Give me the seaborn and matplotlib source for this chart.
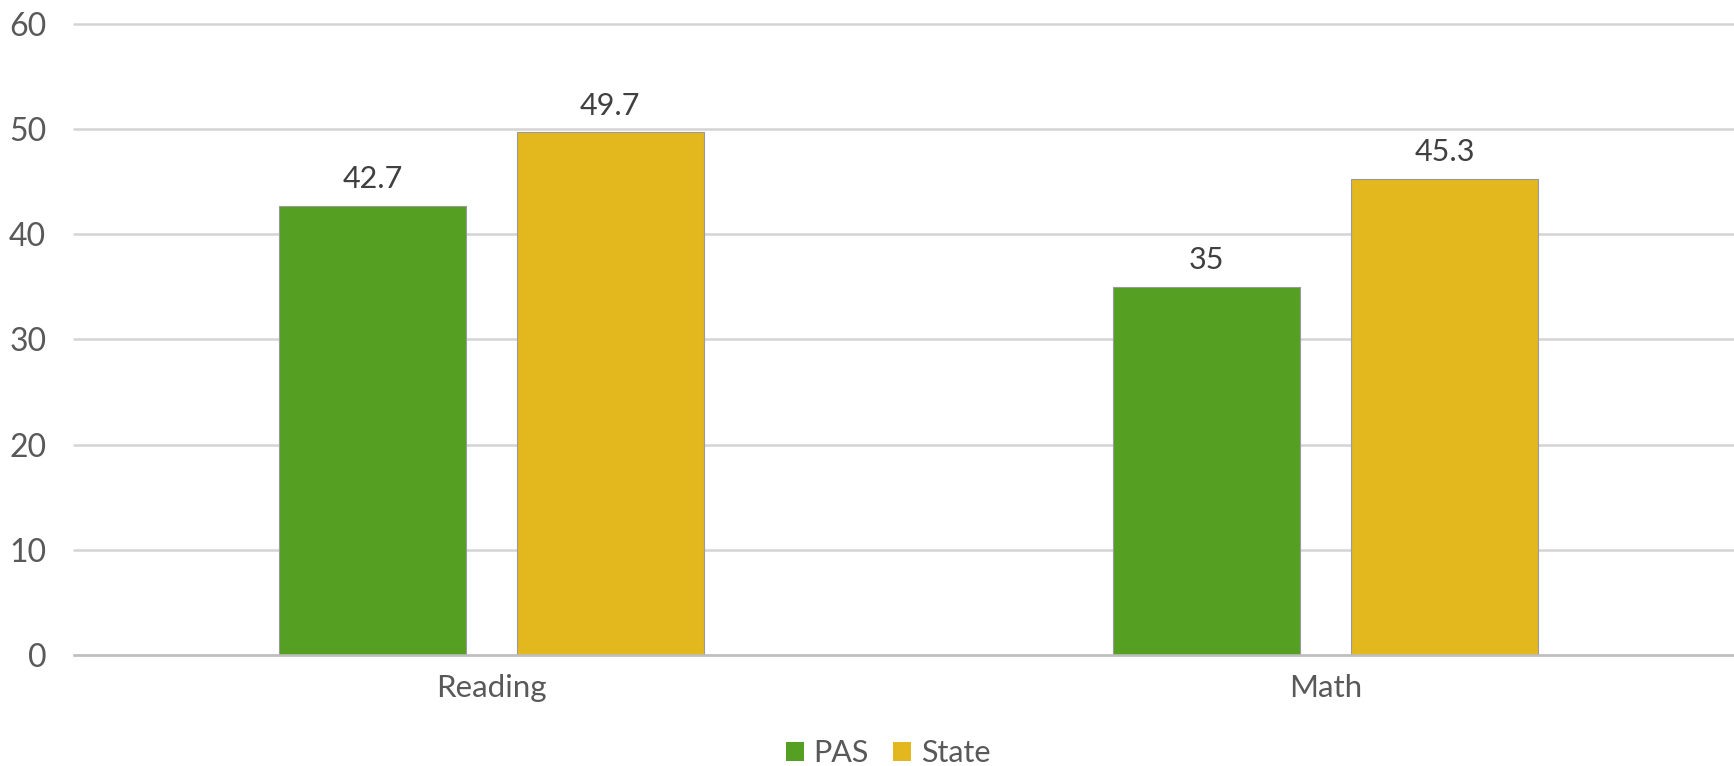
import matplotlib
matplotlib.use("Agg")
import matplotlib.pyplot as plt
import seaborn as sns
import pandas as pd

# Proficiency rates by subject
subjects = ["Reading", "Math"]
groups = ["PAS", "State"]
pas_values = [42.7, 35]
state_values = [49.7, 45.3]
value_labels = {"PAS": ["42.7", "35"], "State": ["49.7", "45.3"]}
y_ticks = [0, 10, 20, 30, 40, 50, 60]

df = pd.DataFrame({
    "Subject": subjects * 2,
    "Group": ["PAS"] * len(subjects) + ["State"] * len(subjects),
    "Value": pas_values + state_values,
})

sns.set_theme(style="white")
plt.rcParams["font.family"] = ["Lato", "DejaVu Sans"]

palette = {"PAS": "#55A022", "State": "#E3B81F"}

fig = plt.figure(figsize=(17.34, 7.66), dpi=100)
ax = fig.add_axes([0.0427, 0.1449, 0.9625, 0.8238])

sns.barplot(data=df, x="Subject", y="Value", hue="Group", order=subjects,
            hue_order=groups, palette=palette, width=0.57, gap=0.214,
            edgecolor="#9a9a9a", linewidth=0.8, saturation=1,
            legend=True, ax=ax)

for cont, g in zip(ax.containers, groups):
    ax.bar_label(cont, labels=value_labels[g], padding=9, fontsize=22,
                 color="#404040")

ax.set_ylim(0, 60)
ax.set_xlim(-0.5, 1.5)
ax.set_yticks(y_ticks)
ax.set_xlabel("")
ax.set_ylabel("")
ax.tick_params(axis="y", length=0, pad=20, labelsize=23, labelcolor="#595959")
ax.tick_params(axis="x", length=0, pad=14, labelsize=22.5, labelcolor="#595959")

ax.yaxis.grid(True, color="#d4d4d4", linewidth=1.8)
ax.set_axisbelow(True)
for gl in ax.get_ygridlines():
    gl.set_clip_on(False)
for s in ["top", "right", "left"]:
    ax.spines[s].set_visible(False)
ax.spines["bottom"].set_color("#bfbfbf")
ax.spines["bottom"].set_linewidth(1.8)

leg = ax.legend(loc="center", bbox_to_anchor=(888 / 1734, 13 / 766),
                bbox_transform=fig.transFigure, ncol=2, frameon=False,
                fontsize=22, handlelength=0.6, handleheight=0.6,
                handletextpad=0.3, columnspacing=0.8, borderpad=0)
for t in leg.get_texts():
    t.set_color("#595959")
for h in leg.legend_handles:
    h.set_edgecolor("none")

fig.savefig("out.png", dpi=100)
